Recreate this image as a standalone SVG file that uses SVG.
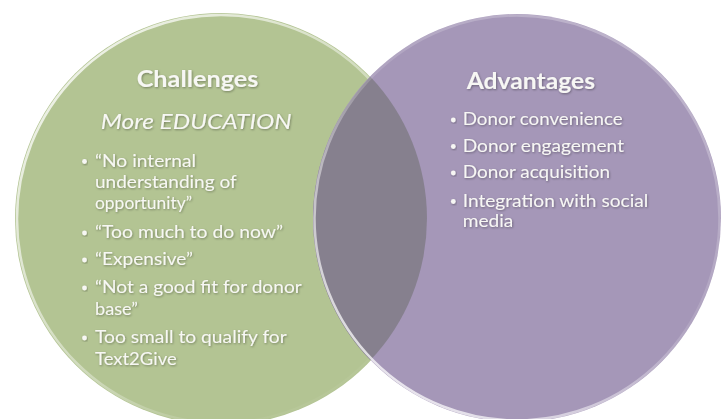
<svg xmlns="http://www.w3.org/2000/svg" width="728" height="419" viewBox="0 0 728 419">
  <defs>
    <style>
      .t { font-family: Lato, "Open Sans", "Liberation Sans", sans-serif; fill: #f7f7f4; filter: url(#shadow); }
      .head { font-size: 22px; font-weight: bold; }
      .sub { font-size: 22px; font-style: italic; }
      .item { font-size: 17.8px; }
      .dot { fill: #f7f7f4; filter: url(#shadow); }
    </style>
    <filter id="shadow" x="-10%" y="-30%" width="120%" height="160%">
      <feDropShadow dx="0.8" dy="1" stdDeviation="0.9" flood-color="#000" flood-opacity="0.35"/>
    </filter>
    <linearGradient id="greenRim" x1="0" y1="0" x2="1" y2="1">
      <stop offset="0" stop-color="#fff" stop-opacity="0.9"/>
      <stop offset="0.5" stop-color="#fff" stop-opacity="0.4"/>
      <stop offset="0.75" stop-color="#fff" stop-opacity="0.05"/>
    </linearGradient>
    <linearGradient id="purpleRim" x1="0" y1="1" x2="0.8" y2="0">
      <stop offset="0" stop-color="#fff" stop-opacity="0.95"/>
      <stop offset="0.35" stop-color="#fff" stop-opacity="0.5"/>
      <stop offset="0.6" stop-color="#fff" stop-opacity="0.12"/>
      <stop offset="1" stop-color="#fff" stop-opacity="0.3"/>
    </linearGradient>
  </defs>

  <rect width="728" height="419" fill="#ffffff"/>

  <g id="challenges">
    <circle cx="221" cy="219" r="206" fill="#b3c493"/>
    <circle cx="221" cy="219" r="204" fill="none" stroke="url(#greenRim)" stroke-width="2.5"/>
  </g>

  <g id="advantages">
    <circle cx="517" cy="218" r="204" fill="#a597b8"/>
  </g>

  <g id="overlap">
    <path d="M370.4 76.7 A206 206 0 0 1 370.4 360.3 A204 204 0 0 1 370.4 76.7 Z" fill="#86808e"/>
    <circle cx="517" cy="218" r="202.5" fill="none" stroke="url(#purpleRim)" stroke-width="2.5"/>
  </g>

  <g id="challenges-text">
    <text class="t head" x="136.7" y="86.7" textLength="121.6" lengthAdjust="spacingAndGlyphs">Challenges</text>
    <text class="t sub" x="100.7" y="129" textLength="191" lengthAdjust="spacingAndGlyphs">More EDUCATION</text>
    <circle class="dot" cx="84.5" cy="161.5" r="2.4"/>
    <text class="t item" x="95" y="166.7" textLength="101" lengthAdjust="spacingAndGlyphs">“No internal</text>
    <text class="t item" x="95" y="187.8" textLength="141.7" lengthAdjust="spacingAndGlyphs">understanding of</text>
    <text class="t item" x="95" y="209.3" textLength="97" lengthAdjust="spacingAndGlyphs">opportunity”</text>
    <circle class="dot" cx="84.5" cy="233" r="2.4"/>
    <text class="t item" x="95" y="238.3" textLength="188" lengthAdjust="spacingAndGlyphs">“Too much to do now”</text>
    <circle class="dot" cx="84.5" cy="260" r="2.4"/>
    <text class="t item" x="95" y="265.3" textLength="98" lengthAdjust="spacingAndGlyphs">“Expensive”</text>
    <circle class="dot" cx="84.5" cy="288" r="2.4"/>
    <text class="t item" x="95" y="293.3" textLength="206.7" lengthAdjust="spacingAndGlyphs">“Not a good fit for donor</text>
    <text class="t item" x="95" y="315" textLength="43" lengthAdjust="spacingAndGlyphs">base”</text>
    <circle class="dot" cx="84.5" cy="338" r="2.4"/>
    <text class="t item" x="95" y="343.3" textLength="191.7" lengthAdjust="spacingAndGlyphs">Too small to qualify for</text>
    <text class="t item" x="95" y="365" textLength="81.7" lengthAdjust="spacingAndGlyphs">Text2Give</text>
  </g>

  <g id="advantages-text">
    <text class="t head" x="466.7" y="89.3" textLength="128.3" lengthAdjust="spacingAndGlyphs">Advantages</text>
    <circle class="dot" cx="453.3" cy="120" r="2.4"/>
    <text class="t item" x="462.7" y="125" textLength="160" lengthAdjust="spacingAndGlyphs">Donor convenience</text>
    <circle class="dot" cx="453.3" cy="146.5" r="2.4"/>
    <text class="t item" x="462.7" y="151.7" textLength="161.3" lengthAdjust="spacingAndGlyphs">Donor engagement</text>
    <circle class="dot" cx="453.3" cy="173" r="2.4"/>
    <text class="t item" x="462.7" y="178.3" textLength="147.3" lengthAdjust="spacingAndGlyphs">Donor acquisition</text>
    <circle class="dot" cx="453.3" cy="201.5" r="2.4"/>
    <text class="t item" x="462.7" y="206.7" textLength="185.6" lengthAdjust="spacingAndGlyphs">Integration with social</text>
    <text class="t item" x="462.7" y="227" textLength="50.6" lengthAdjust="spacingAndGlyphs">media</text>
  </g>
</svg>
